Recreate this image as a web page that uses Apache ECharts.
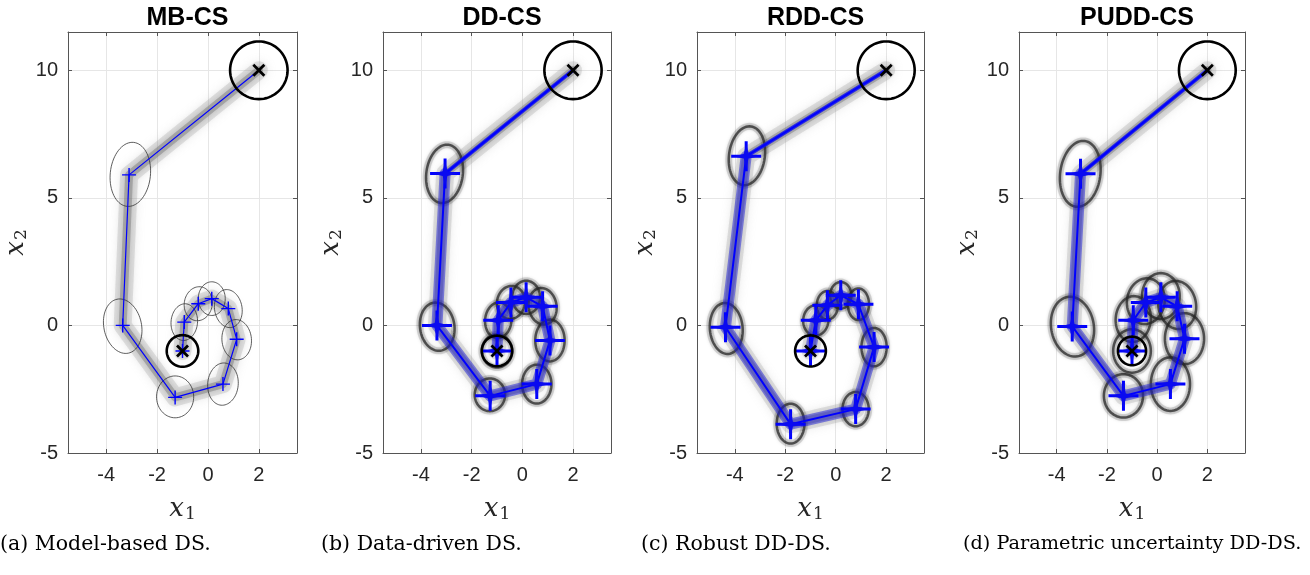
<!DOCTYPE html>
<html>
<head>
<meta charset="utf-8">
<script src="https://cdn.jsdelivr.net/npm/echarts@6/dist/echarts.min.js"></script>
<style>html,body{margin:0;padding:0;background:#fff}#main{width:1310px;height:575px}</style>
</head>
<body>
<div id="main"></div>
<script>
// data
var panelTitles = ['MB-CS', 'DD-CS', 'RDD-CS', 'PUDD-CS'];
var captions = ['(a) Model-based DS.', '(b) Data-driven DS.', '(c) Robust DD-DS.', '(d) Parametric uncertainty DD-DS.'];
var xTicks = [-4, -2, 0, 2];
var yTicks = [-5, 0, 5, 10];
var xRange = [-5.5, 3.5];
var yRange = [-5, 11.5];
var startPoint = [2, 10];
var endPoint = [-1, -1];
var targetRadius = 1.13;
var endRadius = [0.62, 0.6, 0.61, 0.56];

// waypoints [x1, x2]
var mbPath = [[2, 10], [-3.1, 5.9], [-3.35, 0], [-1.29, -2.82], [0.59, -2.3], [1.13, -0.54], [0.8, 0.66], [0.15, 1.05], [-0.38, 0.85], [-0.93, 0.13], [-1, -1]];
var ddPath = [[2, 10], [-3.05, 5.95], [-3.37, 0], [-1.27, -2.76], [0.57, -2.3], [1.09, -0.59], [0.8, 0.75], [0.15, 1.1], [-0.45, 0.9], [-0.95, 0.2], [-1, -1]];
var rddPath = [[2, 10], [-3.55, 6.63], [-4.37, -0.07], [-1.79, -3.87], [0.79, -3.28], [1.52, -0.85], [0.9, 0.83], [0.2, 1.18], [-0.33, 0.79], [-0.79, 0.2], [-1, -1]];
var puddPath = [[2, 10], [-3.05, 5.94], [-3.38, -0.04], [-1.34, -2.76], [0.53, -2.3], [1.09, -0.52], [0.8, 0.75], [0.15, 1.1], [-0.45, 0.9], [-0.95, 0.2], [-1, -1]];

// confidence ellipses [cx, cy, rx, ry, tilt deg]
var mbEllipses = [[-3.05, 5.92, 0.79, 1.26, -6], [-3.35, -0.03, 0.74, 1.08, 12], [-1.29, -2.8, 0.73, 0.82, 0], [0.59, -2.3, 0.6, 0.83, -5], [1.13, -0.56, 0.58, 0.79, 5], [0.8, 0.66, 0.54, 0.75, 10], [0.15, 1.05, 0.53, 0.66, 0], [-0.38, 0.85, 0.55, 0.67, -10], [-0.93, 0.13, 0.52, 0.72, -5]];
var ddEllipses = [[-3.07, 5.94, 0.72, 1.15, -8], [-3.36, -0.05, 0.68, 0.95, 8], [-1.28, -2.72, 0.6, 0.64, 0], [0.57, -2.3, 0.58, 0.76, 0], [1.09, -0.59, 0.58, 0.82, 0], [0.8, 0.75, 0.55, 0.72, 10], [0.15, 1.1, 0.55, 0.65, 0], [-0.45, 0.9, 0.55, 0.65, -10], [-0.95, 0.2, 0.52, 0.7, -5], [-1, -1, 0.6, 0.65, 0]];
var rddEllipses = [[-3.52, 6.65, 0.71, 1.16, -8], [-4.34, -0.12, 0.65, 1.0, 5], [-1.79, -3.85, 0.55, 0.78, 0], [0.79, -3.28, 0.52, 0.67, 0], [1.52, -0.85, 0.5, 0.75, 0], [0.9, 0.83, 0.42, 0.62, 0], [0.2, 1.18, 0.42, 0.52, 0], [-0.33, 0.79, 0.42, 0.56, 0], [-0.79, 0.2, 0.5, 0.6, -5]];
var puddEllipses = [[-3.06, 5.94, 0.8, 1.3, -8], [-3.37, -0.05, 0.85, 1.18, 10], [-1.34, -2.76, 0.78, 0.85, 0], [0.53, -2.3, 0.78, 1.05, 0], [1.09, -0.52, 0.78, 1.0, 0], [0.8, 0.8, 0.75, 0.95, 10], [0.15, 1.15, 0.75, 0.9, 0], [-0.45, 0.95, 0.75, 0.9, -10], [-0.95, 0.25, 0.7, 0.9, -5], [-1, -1, 0.75, 0.85, 0]];

var paths = [mbPath, ddPath, rddPath, puddPath];
var ellipses = [mbEllipses, ddEllipses, rddEllipses, puddEllipses];

// layout
var gridLeft = [68, 383, 697, 1019];
var gridWidth = [229, 228, 227, 226];
var gridTop = 32, gridHeight = 421;
var captionLeft = [0, 321, 641, 963];
var captionSize = [20.5, 20.5, 20.5, 19.3];

var crossSym = 'path://M0,1.5L1.5,0L5,3.5L8.5,0L10,1.5L6.5,5L10,8.5L8.5,10L5,6.5L1.5,10L0,8.5L3.5,5Z';
var plusSym = 'path://M4.5,0L5.5,0L5.5,4.5L10,4.5L10,5.5L5.5,5.5L5.5,10L4.5,10L4.5,5.5L0,5.5L0,4.5L4.5,4.5Z';
var starSym = 'path://M5,0L5.9,4.1L10,5L5.9,5.9L5,10L4.1,5.9L0,5L4.1,4.1Z';

var axisGray = '#555';
var textGray = '#262626';

function ellipsePoints(api) {
    var cx = api.value(0), cy = api.value(1), rx = api.value(2), ry = api.value(3);
    var a = api.value(4) * Math.PI / 180;
    var pts = [];
    for (var k = 0; k < 72; k++) {
        var t = k / 72 * 2 * Math.PI;
        var ex = rx * Math.cos(t), ey = ry * Math.sin(t);
        pts.push(api.coord([cx + ex * Math.cos(a) - ey * Math.sin(a), cy + ex * Math.sin(a) + ey * Math.cos(a)]));
    }
    return pts;
}

function thinEllipse(params, api) {
    return {type: 'polygon', shape: {points: ellipsePoints(api)},
        style: {fill: 'none', stroke: '#333', lineWidth: 0.8}};
}

function fuzzyEllipse(params, api) {
    var pts = ellipsePoints(api);
    return {type: 'group', children: [
        {type: 'polygon', shape: {points: pts}, style: {fill: 'none', stroke: 'rgba(0,0,0,0.12)', lineWidth: 7}},
        {type: 'polygon', shape: {points: pts}, style: {fill: 'none', stroke: 'rgba(40,40,40,0.75)', lineWidth: 2.5,
            shadowBlur: 4, shadowColor: 'rgba(0,0,0,0.5)'}}
    ]};
}

function boldCircle(params, api) {
    return {type: 'polygon', shape: {points: ellipsePoints(api)},
        style: {fill: 'none', stroke: '#000', lineWidth: 2.6}};
}

var grids = [], xAxes = [], yAxes = [], titles = [], series = [];

function mathName(v) {
    return '{i|x}{s|' + v + '}';
}
var mathRich = {
    i: {fontFamily: 'DejaVu Serif', fontStyle: 'italic', fontSize: 26, color: textGray},
    s: {fontFamily: 'DejaVu Serif', fontSize: 17, color: textGray, padding: [11, 0, 0, 1]}
};

function frameAxis(p, pos) {
    return {
        gridIndex: p, type: 'value', position: pos,
        min: pos === 'top' ? xRange[0] : yRange[0], max: pos === 'top' ? xRange[1] : yRange[1],
        axisLine: {show: true, onZero: false, lineStyle: {color: axisGray}},
        axisTick: {show: true, inside: true, length: 4, customValues: pos === 'top' ? xTicks : yTicks, lineStyle: {color: axisGray}},
        axisLabel: {show: false}, splitLine: {show: false}
    };
}

for (var p = 0; p < 4; p++) {
    grids.push({left: gridLeft[p], top: gridTop, width: gridWidth[p], height: gridHeight});
    xAxes.push({
        gridIndex: p, type: 'value', min: xRange[0], max: xRange[1], position: 'bottom',
        axisLine: {show: true, onZero: false, lineStyle: {color: axisGray}},
        axisTick: {show: true, inside: true, length: 4, customValues: xTicks, lineStyle: {color: axisGray}},
        axisLabel: {customValues: xTicks, fontFamily: 'Liberation Sans', fontSize: 20, color: textGray, margin: 12},
        splitLine: {show: true, lineStyle: {color: '#e6e6e6'}},
        name: mathName(1), nameLocation: 'middle', nameGap: 42,
        nameTextStyle: {rich: mathRich}
    });
    xAxes.push(frameAxis(p, 'top'));
    yAxes.push({
        gridIndex: p, type: 'value', min: yRange[0], max: yRange[1], position: 'left',
        axisLine: {show: true, onZero: false, lineStyle: {color: axisGray}},
        axisTick: {show: true, inside: true, length: 4, customValues: yTicks, lineStyle: {color: axisGray}},
        axisLabel: {customValues: yTicks, fontFamily: 'Liberation Sans', fontSize: 20, color: textGray, margin: 10},
        splitLine: {show: true, lineStyle: {color: '#e6e6e6'}},
        name: mathName(2), nameLocation: 'middle', nameGap: 38,
        nameTextStyle: {rich: mathRich}
    });
    yAxes.push(frameAxis(p, 'right'));
    titles.push({
        text: panelTitles[p], left: gridLeft[p] + gridWidth[p] / 2, top: 1, textAlign: 'center',
        textStyle: {fontFamily: 'Liberation Sans', fontWeight: 'bold', fontSize: 25, color: '#000'}
    });
    titles.push({
        text: captions[p], left: captionLeft[p], top: 534, padding: 0,
        textStyle: {fontFamily: 'DejaVu Serif', fontWeight: 'normal', fontSize: captionSize[p], color: '#000'}
    });

    var xi = p * 2, yi = p * 2;
    var path = paths[p];
    var bundle = p > 0;

    // gray spread of sampled trajectories: wide faint halo + denser core
    series.push({
        type: 'line', xAxisIndex: xi, yAxisIndex: yi, data: path, symbol: 'none', silent: true, z: 1,
        lineStyle: {color: 'rgba(170,170,170,0.3)', width: 18, cap: 'round', join: 'round',
            shadowBlur: 10, shadowColor: 'rgba(150,150,150,0.6)'}
    });
    series.push({
        type: 'line', xAxisIndex: xi, yAxisIndex: yi, data: path, symbol: 'none', silent: true, z: 1,
        lineStyle: {color: 'rgba(110,110,110,0.4)', width: 8, cap: 'round', join: 'round',
            shadowBlur: 6, shadowColor: 'rgba(100,100,100,0.6)'}
    });
    // ellipses
    series.push({
        type: 'custom', xAxisIndex: xi, yAxisIndex: yi, data: ellipses[p], silent: true, z: 2,
        encode: {x: 0, y: 1}, renderItem: bundle ? fuzzyEllipse : thinEllipse
    });
    if (bundle) {
        series.push({
            type: 'line', xAxisIndex: xi, yAxisIndex: yi, data: path.slice(1), symbol: 'none', silent: true, z: 3,
            lineStyle: {color: 'rgba(30,30,215,0.5)', width: 11, join: 'round', cap: 'round'}
        });
        series.push({
            type: 'line', xAxisIndex: xi, yAxisIndex: yi, data: path.slice(0, 2), symbol: 'none', silent: true, z: 3,
            lineStyle: {color: 'rgba(20,20,235,0.85)', width: 4, cap: 'round'}
        });
    }
    series.push({
        type: 'line', xAxisIndex: xi, yAxisIndex: yi, data: path, symbol: 'none', silent: true, z: 4,
        lineStyle: {color: '#0000ff', width: bundle ? 2 : 1.2, join: 'round'}
    });
    // waypoint markers
    series.push({
        type: 'scatter', xAxisIndex: xi, yAxisIndex: yi, data: path.slice(1), silent: true, z: 5,
        symbol: plusSym, symbolSize: bundle ? 30 : 14, itemStyle: {color: '#0000ff', opacity: 1}
    });
    if (bundle) {
        series.push({
            type: 'scatter', xAxisIndex: xi, yAxisIndex: yi, data: path.slice(1), silent: true, z: 5,
            symbol: starSym, symbolSize: 26, itemStyle: {color: '#0a0af0', opacity: 1}
        });
    }
    // target and final circles
    series.push({
        type: 'custom', xAxisIndex: xi, yAxisIndex: yi, silent: true, z: 6, encode: {x: 0, y: 1},
        data: [[startPoint[0], startPoint[1], targetRadius, targetRadius, 0], [endPoint[0], endPoint[1], endRadius[p], endRadius[p], 0]],
        renderItem: boldCircle
    });
    series.push({
        type: 'scatter', xAxisIndex: xi, yAxisIndex: yi, data: [startPoint, endPoint], silent: true, z: 7,
        symbol: crossSym, symbolSize: 13, itemStyle: {color: '#000', opacity: 1}
    });
}

var chart = echarts.init(document.getElementById('main'));
chart.setOption({
    animation: false,
    backgroundColor: '#fff',
    title: titles,
    grid: grids,
    xAxis: xAxes,
    yAxis: yAxes,
    series: series
});
</script>
</body>
</html>
